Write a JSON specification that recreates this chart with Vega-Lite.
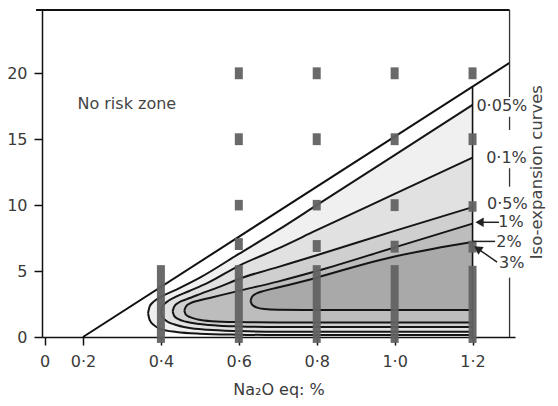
{
  "$schema": "https://vega.github.io/schema/vega-lite/v6.json",
  "width": 473,
  "height": 327,
  "autosize": {"type": "none"},
  "padding": {"left": 42, "top": 10, "right": 43, "bottom": 69},
  "background": "white",
  "config": {
    "view": {"stroke": null},
    "font": "DejaVu Sans",
    "axis": {"grid": false, "tickSize": 8, "tickWidth": 1.5, "tickColor": "#111", "domainColor": "#111", "domainWidth": 1.5,
      "labelFont": "DejaVu Sans", "labelFontSize": 16, "labelColor": "#3a3a3a", "labelFlush": false, "labelOverlap": false,
      "titleFont": "DejaVu Sans", "titleFontSize": 16, "titleFontWeight": "normal", "titleColor": "#3a3a3a"}
  },
  "datasets": {
    "contours": [
      {"level": "0.05%", "x": 0.367, "lo": 1.8, "hi": 1.8},
      {"level": "0.05%", "x": 0.371, "lo": 1.3, "hi": 2.3},
      {"level": "0.05%", "x": 0.382, "lo": 0.9, "hi": 2.7},
      {"level": "0.05%", "x": 0.4, "lo": 0.6, "hi": 3.05},
      {"level": "0.05%", "x": 0.44, "lo": 0.38, "hi": 3.6},
      {"level": "0.05%", "x": 0.5, "lo": 0.25, "hi": 4.5},
      {"level": "0.05%", "x": 0.6, "lo": 0.18, "hi": 6.3},
      {"level": "0.05%", "x": 0.7, "lo": 0.15, "hi": 8.1},
      {"level": "0.05%", "x": 0.8, "lo": 0.15, "hi": 10.0},
      {"level": "0.05%", "x": 1.0, "lo": 0.15, "hi": 13.8},
      {"level": "0.05%", "x": 1.2, "lo": 0.15, "hi": 17.6},
      {"level": "0.1%", "x": 0.4, "lo": 1.9, "hi": 1.9},
      {"level": "0.1%", "x": 0.404, "lo": 1.5, "hi": 2.3},
      {"level": "0.1%", "x": 0.415, "lo": 1.2, "hi": 2.65},
      {"level": "0.1%", "x": 0.435, "lo": 0.95, "hi": 3.0},
      {"level": "0.1%", "x": 0.47, "lo": 0.7, "hi": 3.45},
      {"level": "0.1%", "x": 0.52, "lo": 0.55, "hi": 4.1},
      {"level": "0.1%", "x": 0.6, "lo": 0.45, "hi": 5.4},
      {"level": "0.1%", "x": 0.7, "lo": 0.4, "hi": 6.7},
      {"level": "0.1%", "x": 0.8, "lo": 0.4, "hi": 8.1},
      {"level": "0.1%", "x": 1.0, "lo": 0.4, "hi": 10.85},
      {"level": "0.1%", "x": 1.2, "lo": 0.4, "hi": 13.6},
      {"level": "0.5%", "x": 0.43, "lo": 1.95, "hi": 1.95},
      {"level": "0.5%", "x": 0.434, "lo": 1.6, "hi": 2.3},
      {"level": "0.5%", "x": 0.445, "lo": 1.35, "hi": 2.6},
      {"level": "0.5%", "x": 0.465, "lo": 1.15, "hi": 2.85},
      {"level": "0.5%", "x": 0.5, "lo": 0.98, "hi": 3.25},
      {"level": "0.5%", "x": 0.55, "lo": 0.85, "hi": 3.8},
      {"level": "0.5%", "x": 0.6, "lo": 0.8, "hi": 4.4},
      {"level": "0.5%", "x": 0.7, "lo": 0.75, "hi": 5.3},
      {"level": "0.5%", "x": 0.8, "lo": 0.75, "hi": 6.2},
      {"level": "0.5%", "x": 1.0, "lo": 0.75, "hi": 8.05},
      {"level": "0.5%", "x": 1.2, "lo": 0.75, "hi": 9.85},
      {"level": "1%", "x": 0.46, "lo": 2.0, "hi": 2.0},
      {"level": "1%", "x": 0.464, "lo": 1.7, "hi": 2.3},
      {"level": "1%", "x": 0.475, "lo": 1.5, "hi": 2.55},
      {"level": "1%", "x": 0.495, "lo": 1.33, "hi": 2.75},
      {"level": "1%", "x": 0.53, "lo": 1.2, "hi": 3.0},
      {"level": "1%", "x": 0.6, "lo": 1.13, "hi": 3.5},
      {"level": "1%", "x": 0.7, "lo": 1.1, "hi": 4.2},
      {"level": "1%", "x": 0.8, "lo": 1.1, "hi": 5.0},
      {"level": "1%", "x": 1.0, "lo": 1.1, "hi": 6.8},
      {"level": "1%", "x": 1.2, "lo": 1.1, "hi": 8.6},
      {"level": "2%", "x": 0.63, "lo": 2.75, "hi": 2.75},
      {"level": "2%", "x": 0.634, "lo": 2.45, "hi": 3.05},
      {"level": "2%", "x": 0.645, "lo": 2.25, "hi": 3.3},
      {"level": "2%", "x": 0.665, "lo": 2.12, "hi": 3.5},
      {"level": "2%", "x": 0.7, "lo": 2.07, "hi": 3.75},
      {"level": "2%", "x": 0.8, "lo": 2.05, "hi": 4.5},
      {"level": "2%", "x": 0.9, "lo": 2.05, "hi": 5.35},
      {"level": "2%", "x": 1.0, "lo": 2.05, "hi": 6.1},
      {"level": "2%", "x": 1.1, "lo": 2.05, "hi": 6.7},
      {"level": "2%", "x": 1.2, "lo": 2.05, "hi": 7.2}
    ],
    "risk": [{"x": 0.2, "y": 0}, {"x": 1.295, "y": 20.8}],
    "bars": [
      {"x": 0.4, "lo": -0.45, "hi": 5.45},
      {"x": 0.6, "lo": -0.45, "hi": 5.45},
      {"x": 0.6, "lo": 6.6, "hi": 7.5},
      {"x": 0.6, "lo": 9.6, "hi": 10.4},
      {"x": 0.6, "lo": 14.55, "hi": 15.45},
      {"x": 0.6, "lo": 19.55, "hi": 20.45},
      {"x": 0.8, "lo": -0.45, "hi": 5.45},
      {"x": 0.8, "lo": 6.45, "hi": 7.35},
      {"x": 0.8, "lo": 9.6, "hi": 10.4},
      {"x": 0.8, "lo": 14.55, "hi": 15.45},
      {"x": 0.8, "lo": 19.55, "hi": 20.45},
      {"x": 1.0, "lo": -0.45, "hi": 5.45},
      {"x": 1.0, "lo": 6.4, "hi": 7.3},
      {"x": 1.0, "lo": 9.55, "hi": 10.45},
      {"x": 1.0, "lo": 14.55, "hi": 15.45},
      {"x": 1.0, "lo": 19.55, "hi": 20.45},
      {"x": 1.2, "lo": -0.45, "hi": 5.4},
      {"x": 1.2, "lo": 6.4, "hi": 7.3},
      {"x": 1.2, "lo": 9.5, "hi": 10.3},
      {"x": 1.2, "lo": 14.55, "hi": 15.45},
      {"x": 1.2, "lo": 19.55, "hi": 20.45}
    ],
    "frame": [
      {"y": 24.8, "y2": 18.2},
      {"y": 16.7, "y2": 15.7},
      {"y": 12.8, "y2": 11.4},
      {"y": 4.5, "y2": 0}
    ],
    "labels": [
      {"label": "0·05%", "x": 1.21, "y": 17.5},
      {"label": "0·1%", "x": 1.235, "y": 13.6},
      {"label": "0·5%", "x": 1.237, "y": 10.1},
      {"label": "1%", "x": 1.266, "y": 8.7},
      {"label": "2%", "x": 1.261, "y": 7.2},
      {"label": "3%", "x": 1.268, "y": 5.6}
    ],
    "arrows": [
      {"x": 1.268, "y": 8.7, "x2": 1.22, "y2": 8.7},
      {"x": 1.258, "y": 7.25, "x2": 1.2, "y2": 7.25},
      {"x": 1.263, "y": 5.68, "x2": 1.213, "y2": 6.71}
    ]
  },
  "layer": [
    {
      "data": {"name": "contours"},
      "mark": {"type": "area", "interpolate": "monotone"},
      "encoding": {
        "x": {"field": "x", "type": "quantitative", "title": "Na₂O eq: %",
          "scale": {"domain": [0, 0.2, 1.295], "range": [0, 41, 473], "nice": false, "zero": false},
          "axis": {"values": [0, 0.2, 0.4, 0.6, 0.8, 1, 1.2],
            "labelExpr": "datum.value == 0 ? '0' : replace(format(datum.value, '.1f'), '.', '·')",
            "labelPadding": 8, "titlePadding": 12}},
        "y": {"field": "hi", "type": "quantitative", "title": null,
          "scale": {"domain": [0, 24.8], "nice": false, "zero": false},
          "axis": {"values": [0, 5, 10, 15, 20], "labelPadding": 7}},
        "y2": {"field": "lo"},
        "color": {"field": "level", "type": "nominal", "legend": null,
          "scale": {"domain": ["0.05%", "0.1%", "0.5%", "1%", "2%"], "range": ["#f0f0f0", "#e1e1e1", "#cfcfcf", "#bdbdbd", "#a9a9a9"]}}
      }
    },
    {
      "data": {"name": "contours"},
      "mark": {"type": "line", "interpolate": "monotone", "color": "#151515", "strokeWidth": 2},
      "encoding": {
        "x": {"field": "x", "type": "quantitative", "title": "Na₂O eq: %", "scale": {"domain": [0, 0.2, 1.295], "range": [0, 41, 473], "nice": false, "zero": false}},
        "y": {"field": "hi", "type": "quantitative", "title": null, "scale": {"domain": [0, 24.8], "nice": false, "zero": false}},
        "detail": {"field": "level"}
      }
    },
    {
      "data": {"name": "contours"},
      "mark": {"type": "line", "interpolate": "monotone", "color": "#151515", "strokeWidth": 2},
      "encoding": {
        "x": {"field": "x", "type": "quantitative", "title": "Na₂O eq: %", "scale": {"domain": [0, 0.2, 1.295], "range": [0, 41, 473], "nice": false, "zero": false}},
        "y": {"field": "lo", "type": "quantitative", "title": null, "scale": {"domain": [0, 24.8], "nice": false, "zero": false}},
        "detail": {"field": "level"}
      }
    },
    {
      "data": {"name": "risk"},
      "mark": {"type": "line", "color": "#111", "strokeWidth": 2},
      "encoding": {
        "x": {"field": "x", "type": "quantitative", "title": "Na₂O eq: %", "scale": {"domain": [0, 0.2, 1.295], "range": [0, 41, 473], "nice": false, "zero": false}},
        "y": {"field": "y", "type": "quantitative", "title": null, "scale": {"domain": [0, 24.8], "nice": false, "zero": false}}
      }
    },
    {
      "data": {"values": [{}]},
      "mark": {"type": "rule", "color": "#111", "strokeWidth": 1.6},
      "encoding": {
        "x": {"datum": 1.2, "type": "quantitative", "title": "Na₂O eq: %", "scale": {"domain": [0, 0.2, 1.295], "range": [0, 41, 473], "nice": false, "zero": false}},
        "y": {"datum": 0, "type": "quantitative", "title": null, "scale": {"domain": [0, 24.8], "nice": false, "zero": false}},
        "y2": {"datum": 19.0}
      }
    },
    {
      "data": {"values": [{}]},
      "mark": {"type": "rule", "color": "#111", "strokeWidth": 1.8},
      "encoding": {
        "x": {"datum": -0.045, "type": "quantitative", "title": "Na₂O eq: %", "scale": {"domain": [0, 0.2, 1.295], "range": [0, 41, 473], "nice": false, "zero": false}},
        "x2": {"datum": 1.295},
        "y": {"datum": 24.8, "type": "quantitative", "title": null, "scale": {"domain": [0, 24.8], "nice": false, "zero": false}}
      }
    },
    {
      "data": {"name": "frame"},
      "mark": {"type": "rule", "color": "#333", "strokeWidth": 1.3},
      "encoding": {
        "x": {"datum": 1.295, "type": "quantitative", "title": "Na₂O eq: %", "scale": {"domain": [0, 0.2, 1.295], "range": [0, 41, 473], "nice": false, "zero": false}},
        "y": {"field": "y", "type": "quantitative", "title": null, "scale": {"domain": [0, 24.8], "nice": false, "zero": false}},
        "y2": {"field": "y2"}
      }
    },
    {
      "data": {"name": "bars"},
      "mark": {"type": "bar", "width": 8, "color": "#626262", "opacity": 0.95},
      "encoding": {
        "x": {"field": "x", "type": "quantitative", "title": "Na₂O eq: %", "scale": {"domain": [0, 0.2, 1.295], "range": [0, 41, 473], "nice": false, "zero": false}},
        "y": {"field": "lo", "type": "quantitative", "title": null, "scale": {"domain": [0, 24.8], "nice": false, "zero": false}},
        "y2": {"field": "hi"}
      }
    },
    {
      "data": {"name": "arrows"},
      "mark": {"type": "rule", "color": "#222", "strokeWidth": 1.5},
      "encoding": {
        "x": {"field": "x", "type": "quantitative", "title": "Na₂O eq: %", "scale": {"domain": [0, 0.2, 1.295], "range": [0, 41, 473], "nice": false, "zero": false}},
        "x2": {"field": "x2"},
        "y": {"field": "y", "type": "quantitative", "title": null, "scale": {"domain": [0, 24.8], "nice": false, "zero": false}},
        "y2": {"field": "y2"}
      }
    },
    {
      "data": {"values": [{}]},
      "mark": {"type": "point", "shape": "triangle-left", "filled": true, "color": "#222", "size": 90, "opacity": 1},
      "encoding": {
        "x": {"datum": 1.218, "type": "quantitative", "title": "Na₂O eq: %", "scale": {"domain": [0, 0.2, 1.295], "range": [0, 41, 473], "nice": false, "zero": false}},
        "y": {"datum": 8.7, "type": "quantitative", "title": null, "scale": {"domain": [0, 24.8], "nice": false, "zero": false}}
      }
    },
    {
      "data": {"values": [{}]},
      "mark": {"type": "point", "shape": "triangle-up", "filled": true, "color": "#222", "size": 90, "opacity": 1, "angle": 304},
      "encoding": {
        "x": {"datum": 1.213, "type": "quantitative", "title": "Na₂O eq: %", "scale": {"domain": [0, 0.2, 1.295], "range": [0, 41, 473], "nice": false, "zero": false}},
        "y": {"datum": 6.71, "type": "quantitative", "title": null, "scale": {"domain": [0, 24.8], "nice": false, "zero": false}}
      }
    },
    {
      "data": {"name": "labels"},
      "mark": {"type": "text", "align": "left", "baseline": "middle", "font": "DejaVu Sans", "fontSize": 16, "color": "#3a3a3a"},
      "encoding": {
        "x": {"field": "x", "type": "quantitative", "title": "Na₂O eq: %", "scale": {"domain": [0, 0.2, 1.295], "range": [0, 41, 473], "nice": false, "zero": false}},
        "y": {"field": "y", "type": "quantitative", "title": null, "scale": {"domain": [0, 24.8], "nice": false, "zero": false}},
        "text": {"field": "label"}
      }
    },
    {
      "data": {"values": [{}]},
      "mark": {"type": "text", "align": "left", "baseline": "middle", "font": "DejaVu Sans", "fontSize": 16, "color": "#444"},
      "encoding": {
        "x": {"datum": 0.171, "type": "quantitative", "title": "Na₂O eq: %", "scale": {"domain": [0, 0.2, 1.295], "range": [0, 41, 473], "nice": false, "zero": false}},
        "y": {"datum": 17.7, "type": "quantitative", "title": null, "scale": {"domain": [0, 24.8], "nice": false, "zero": false}},
        "text": {"value": "No risk zone"}
      }
    },
    {
      "data": {"values": [{}]},
      "mark": {"type": "text", "align": "center", "baseline": "middle", "angle": 270, "font": "DejaVu Sans", "fontSize": 16.5, "color": "#444"},
      "encoding": {
        "x": {"datum": 1.365, "type": "quantitative", "title": "Na₂O eq: %", "scale": {"domain": [0, 0.2, 1.295], "range": [0, 41, 473], "nice": false, "zero": false}},
        "y": {"datum": 12.5, "type": "quantitative", "title": null, "scale": {"domain": [0, 24.8], "nice": false, "zero": false}},
        "text": {"value": "Iso-expansion curves"}
      }
    }
  ]
}
